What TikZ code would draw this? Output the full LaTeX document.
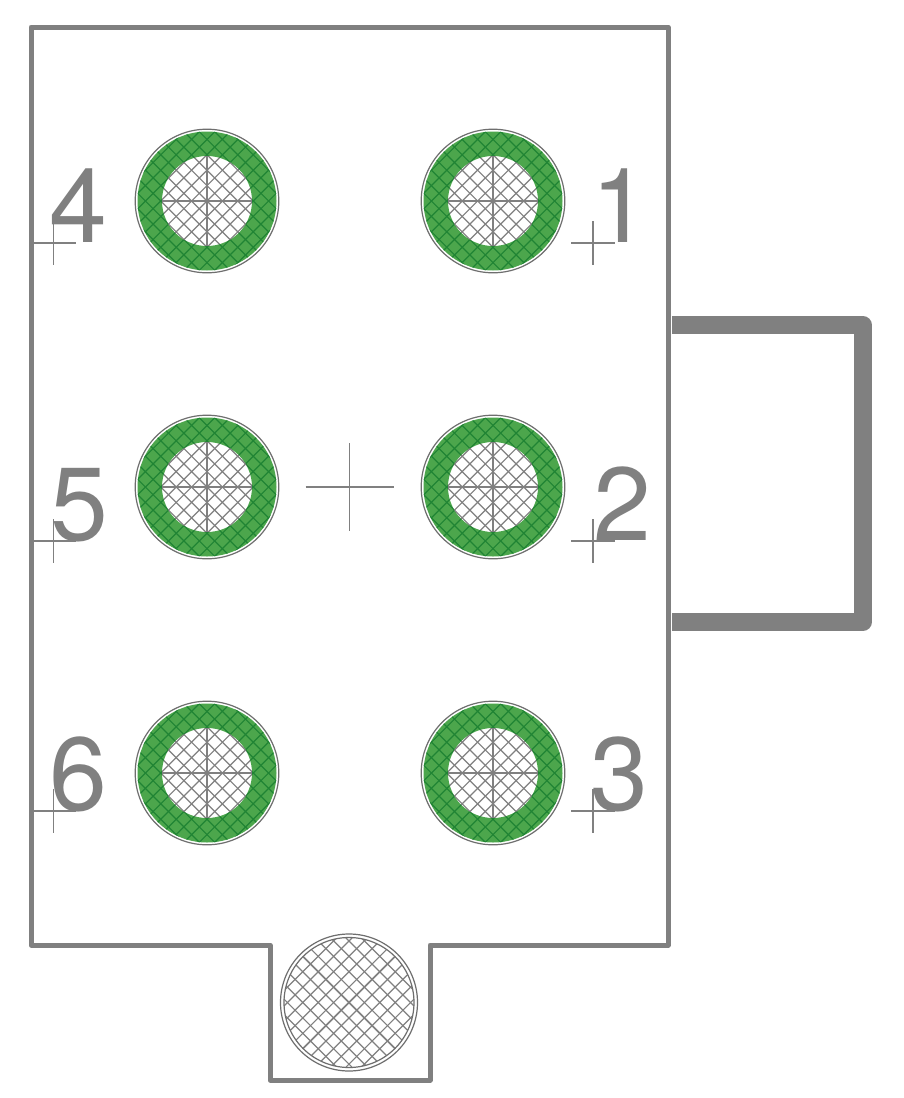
\documentclass[tikz,border=0pt]{standalone}
\usepackage{fontspec}
\setmainfont{TeX Gyre Heros}
\definecolor{gr}{RGB}{128,128,128}
\definecolor{padg}{RGB}{76,166,76}
\definecolor{padd}{RGB}{32,132,52}
\definecolor{thin}{RGB}{110,110,110}
\tikzset{
  x=1pt,y=-1pt,
  outline/.style={draw=gr,line width=5pt,line join=round,line cap=round},
  bump/.style={draw=gr,line width=17.5pt,line join=round},
  fine/.style={draw=thin,line width=1.2pt},
  hair/.style={draw=gr,line width=1.6pt},
  heavy/.style={draw=gr,line width=1.7pt},
  digit/.style={text=gr,font=\fontsize{104}{104}\selectfont,inner sep=0pt,anchor=base west}
}
% hatch around a centre: #1 x, #2 y, #3 half-range, #4 pitch, #5 colour, #6 width
\newcommand{\myhatch}[6]{%
  \foreach \k in {-12,...,12}{
    \draw[draw=#5,line width=#6]
      ({#1+\k*#4-#3},{#2+#3}) -- ({#1+\k*#4+#3},{#2-#3});
    \draw[draw=#5,line width=#6]
      ({#1+\k*#4-#3},{#2-#3}) -- ({#1+\k*#4+#3},{#2+#3});
  }}
\newcommand{\mypad}[2]{%
  \fill[padg,even odd rule] (#1,#2) circle[radius=69.5] (#1,#2) circle[radius=45];
  \begin{scope}[even odd rule]
    \clip (#1,#2) circle[radius=69.5] (#1,#2) circle[radius=45];
    \myhatch{#1}{#2}{75}{15.4}{padd}{1.2pt}
  \end{scope}
  \begin{scope}
    \clip (#1,#2) circle[radius=45];
    \myhatch{#1}{#2}{50}{15.4}{gr}{1.2pt}
  \end{scope}
  \draw[fine] (#1,#2) circle[radius=71.8];
  \draw[hair] (#1-45,#2) -- (#1+45,#2);
  \draw[hair] (#1,#2-45) -- (#1,#2+45);
}
\newcommand{\mycross}[3]{%
  \draw[hair] (#1-#3,#2) -- (#1+#3,#2);
  \draw[hair] (#1,#2-#3) -- (#1,#2+#3);
}
\begin{document}
\begin{tikzpicture}
\useasboundingbox (0,0) rectangle (904,1098);
\fill[white] (0,0) rectangle (904,1098);
% bump
\draw[bump] (672,325) -- (863,325) -- (863,622) -- (672,622);
% outline
\draw[outline] (31,27) -- (668,27) -- (668,945) -- (430,945) -- (430,1080) -- (270,1080) -- (270,945) -- (31,945) -- cycle;
% pads
\mypad{207}{201}
\mypad{493}{201}
\mypad{207}{487}
\mypad{493}{487}
\mypad{207}{773}
\mypad{493}{773}
% centre
\mycross{349.5}{487}{44}
% digits
\node[digit] (d4) at (49.5,242) {4};
\node[digit] (d1) at (591.5,242) {1};
\node[digit] (d5) at (50.5,540) {5};
\node[digit] (d2) at (593,540) {2};
\node[digit] (d6) at (49,810) {6};
\node[digit] (d3) at (590.5,810) {3};
% reference crosses
\mycross{53.5}{243}{22}
\mycross{593}{243}{22}
\mycross{53.5}{541}{22}
\mycross{593}{541}{22}
\mycross{53.5}{811}{22}
\mycross{593}{811}{22}
% mounting hole
\begin{scope}
  \clip (349,1002.5) circle[radius=65];
  \myhatch{349}{1002.5}{70}{15.4}{gr}{1.2pt}
  \draw[heavy] (349-47,1002.5-47) -- (349+47,1002.5+47);
  \draw[heavy] (349-47,1002.5+47) -- (349+47,1002.5-47);
\end{scope}
\draw[fine] (349,1002.5) circle[radius=68.5];
\draw[fine] (349,1002.5) circle[radius=65];
\end{tikzpicture}
\end{document}
